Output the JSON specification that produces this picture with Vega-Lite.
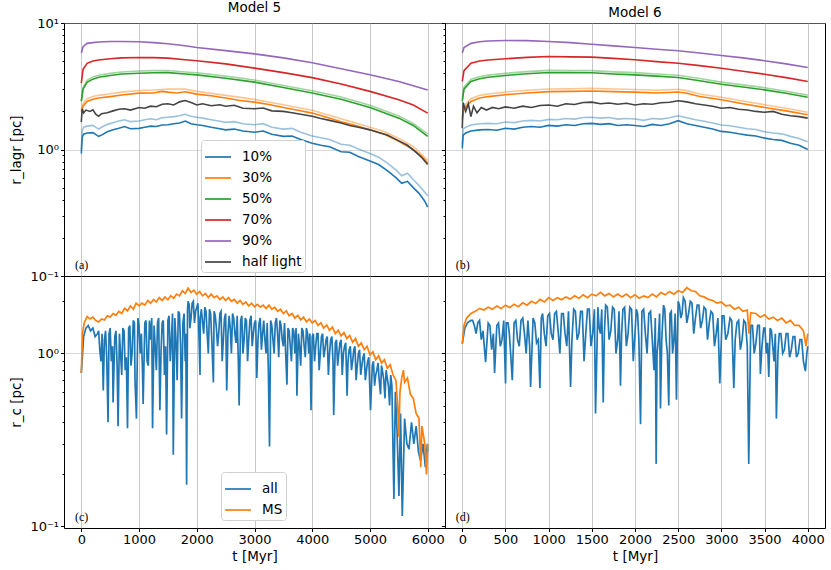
{
  "$schema": "https://vega.github.io/schema/vega-lite/v6.json",
  "description": "Lagrangian and core radii for Model 5 and Model 6.",
  "padding": {"left": 9, "top": 0, "right": 2, "bottom": 5},
  "bounds": "flush",
  "spacing": 0,
  "columns": 2,
  "config": {
    "font": "DejaVu Sans",
    "view": {"stroke": "black", "strokeWidth": 1},
    "title": {"font": "DejaVu Sans", "fontSize": 13.5, "fontWeight": "normal", "offset": 3, "color": "black"},
    "axis": {
      "labelFont": "DejaVu Sans", "labelFontSize": 13, "labelColor": "black",
      "titleFont": "DejaVu Sans", "titleFontSize": 13.5, "titleFontWeight": "normal", "titleColor": "black",
      "domain": false, "tickColor": "black", "tickSize": 3.5, "labelPadding": 2,
      "gridColor": "#b0b0b0", "gridOpacity": 0.7, "gridWidth": 1, "labelOverlap": false
    },
    "legend": {
      "labelFont": "DejaVu Sans", "labelFontSize": 13.5, "labelColor": "black",
      "symbolType": "stroke", "symbolSize": 676, "symbolStrokeWidth": 2, "symbolOpacity": 0.85,
      "strokeColor": "#d0d0d0", "fillColor": "white", "cornerRadius": 3, "padding": 3,
      "labelOffset": 10, "rowPadding": -7.5
    }
  },
  "datasets": {
    "lagr": [
      {"m":5,"s":"10%","k":"d","t":0,"v":0.93},{"m":5,"s":"10%","k":"d","t":15,"v":1.25},{"m":5,"s":"10%","k":"d","t":40,"v":1.32},{"m":5,"s":"10%","k":"d","t":100,"v":1.35},{"m":5,"s":"10%","k":"d","t":200,"v":1.36},{"m":5,"s":"10%","k":"d","t":300,"v":1.27},{"m":5,"s":"10%","k":"d","t":350,"v":1.3},{"m":5,"s":"10%","k":"d","t":450,"v":1.38},{"m":5,"s":"10%","k":"d","t":550,"v":1.43},{"m":5,"s":"10%","k":"d","t":650,"v":1.47},{"m":5,"s":"10%","k":"d","t":750,"v":1.52},{"m":5,"s":"10%","k":"d","t":850,"v":1.46},{"m":5,"s":"10%","k":"d","t":1000,"v":1.47},{"m":5,"s":"10%","k":"d","t":1100,"v":1.5},{"m":5,"s":"10%","k":"d","t":1200,"v":1.53},{"m":5,"s":"10%","k":"d","t":1300,"v":1.52},{"m":5,"s":"10%","k":"d","t":1400,"v":1.56},{"m":5,"s":"10%","k":"d","t":1500,"v":1.57},{"m":5,"s":"10%","k":"d","t":1600,"v":1.6},{"m":5,"s":"10%","k":"d","t":1700,"v":1.62},{"m":5,"s":"10%","k":"d","t":1800,"v":1.68},{"m":5,"s":"10%","k":"d","t":1900,"v":1.6},{"m":5,"s":"10%","k":"d","t":2000,"v":1.57},{"m":5,"s":"10%","k":"d","t":2100,"v":1.55},{"m":5,"s":"10%","k":"d","t":2250,"v":1.5},{"m":5,"s":"10%","k":"d","t":2400,"v":1.46},{"m":5,"s":"10%","k":"d","t":2500,"v":1.43},{"m":5,"s":"10%","k":"d","t":2650,"v":1.45},{"m":5,"s":"10%","k":"d","t":2800,"v":1.4},{"m":5,"s":"10%","k":"d","t":3000,"v":1.37},{"m":5,"s":"10%","k":"d","t":3150,"v":1.4},{"m":5,"s":"10%","k":"d","t":3300,"v":1.32},{"m":5,"s":"10%","k":"d","t":3500,"v":1.27},{"m":5,"s":"10%","k":"d","t":3650,"v":1.28},{"m":5,"s":"10%","k":"d","t":3800,"v":1.2},{"m":5,"s":"10%","k":"d","t":4000,"v":1.12},{"m":5,"s":"10%","k":"d","t":4150,"v":1.08},{"m":5,"s":"10%","k":"d","t":4300,"v":1.05},{"m":5,"s":"10%","k":"d","t":4500,"v":0.96},{"m":5,"s":"10%","k":"d","t":4650,"v":0.95},{"m":5,"s":"10%","k":"d","t":4800,"v":0.88},{"m":5,"s":"10%","k":"d","t":5000,"v":0.81},{"m":5,"s":"10%","k":"d","t":5150,"v":0.76},{"m":5,"s":"10%","k":"d","t":5300,"v":0.68},{"m":5,"s":"10%","k":"d","t":5450,"v":0.6},{"m":5,"s":"10%","k":"d","t":5550,"v":0.54},{"m":5,"s":"10%","k":"d","t":5650,"v":0.56},{"m":5,"s":"10%","k":"d","t":5750,"v":0.5},{"m":5,"s":"10%","k":"d","t":5850,"v":0.45},{"m":5,"s":"10%","k":"d","t":5950,"v":0.39},{"m":5,"s":"10%","k":"d","t":6000,"v":0.35},
      {"m":5,"s":"10%","k":"l","t":0,"v":1.0},{"m":5,"s":"10%","k":"l","t":15,"v":1.4},{"m":5,"s":"10%","k":"l","t":40,"v":1.5},{"m":5,"s":"10%","k":"l","t":100,"v":1.53},{"m":5,"s":"10%","k":"l","t":200,"v":1.55},{"m":5,"s":"10%","k":"l","t":300,"v":1.45},{"m":5,"s":"10%","k":"l","t":350,"v":1.5},{"m":5,"s":"10%","k":"l","t":450,"v":1.58},{"m":5,"s":"10%","k":"l","t":550,"v":1.63},{"m":5,"s":"10%","k":"l","t":650,"v":1.68},{"m":5,"s":"10%","k":"l","t":750,"v":1.72},{"m":5,"s":"10%","k":"l","t":850,"v":1.66},{"m":5,"s":"10%","k":"l","t":1000,"v":1.68},{"m":5,"s":"10%","k":"l","t":1100,"v":1.72},{"m":5,"s":"10%","k":"l","t":1200,"v":1.75},{"m":5,"s":"10%","k":"l","t":1300,"v":1.72},{"m":5,"s":"10%","k":"l","t":1400,"v":1.78},{"m":5,"s":"10%","k":"l","t":1500,"v":1.8},{"m":5,"s":"10%","k":"l","t":1600,"v":1.82},{"m":5,"s":"10%","k":"l","t":1700,"v":1.85},{"m":5,"s":"10%","k":"l","t":1800,"v":1.9},{"m":5,"s":"10%","k":"l","t":1900,"v":1.83},{"m":5,"s":"10%","k":"l","t":2000,"v":1.8},{"m":5,"s":"10%","k":"l","t":2100,"v":1.77},{"m":5,"s":"10%","k":"l","t":2250,"v":1.72},{"m":5,"s":"10%","k":"l","t":2400,"v":1.67},{"m":5,"s":"10%","k":"l","t":2500,"v":1.64},{"m":5,"s":"10%","k":"l","t":2650,"v":1.66},{"m":5,"s":"10%","k":"l","t":2800,"v":1.6},{"m":5,"s":"10%","k":"l","t":3000,"v":1.57},{"m":5,"s":"10%","k":"l","t":3150,"v":1.6},{"m":5,"s":"10%","k":"l","t":3300,"v":1.5},{"m":5,"s":"10%","k":"l","t":3500,"v":1.45},{"m":5,"s":"10%","k":"l","t":3650,"v":1.47},{"m":5,"s":"10%","k":"l","t":3800,"v":1.37},{"m":5,"s":"10%","k":"l","t":4000,"v":1.28},{"m":5,"s":"10%","k":"l","t":4150,"v":1.24},{"m":5,"s":"10%","k":"l","t":4300,"v":1.2},{"m":5,"s":"10%","k":"l","t":4500,"v":1.1},{"m":5,"s":"10%","k":"l","t":4650,"v":1.08},{"m":5,"s":"10%","k":"l","t":4800,"v":1.01},{"m":5,"s":"10%","k":"l","t":5000,"v":0.93},{"m":5,"s":"10%","k":"l","t":5150,"v":0.87},{"m":5,"s":"10%","k":"l","t":5300,"v":0.78},{"m":5,"s":"10%","k":"l","t":5450,"v":0.69},{"m":5,"s":"10%","k":"l","t":5550,"v":0.62},{"m":5,"s":"10%","k":"l","t":5650,"v":0.65},{"m":5,"s":"10%","k":"l","t":5750,"v":0.58},{"m":5,"s":"10%","k":"l","t":5850,"v":0.52},{"m":5,"s":"10%","k":"l","t":5950,"v":0.46},{"m":5,"s":"10%","k":"l","t":6000,"v":0.43},
      {"m":5,"s":"30%","k":"d","t":0,"v":2.0},{"m":5,"s":"30%","k":"d","t":30,"v":2.2},{"m":5,"s":"30%","k":"d","t":100,"v":2.4},{"m":5,"s":"30%","k":"d","t":200,"v":2.5},{"m":5,"s":"30%","k":"d","t":300,"v":2.55},{"m":5,"s":"30%","k":"d","t":500,"v":2.62},{"m":5,"s":"30%","k":"d","t":700,"v":2.7},{"m":5,"s":"30%","k":"d","t":1000,"v":2.79},{"m":5,"s":"30%","k":"d","t":1250,"v":2.8},{"m":5,"s":"30%","k":"d","t":1400,"v":2.88},{"m":5,"s":"30%","k":"d","t":1500,"v":2.84},{"m":5,"s":"30%","k":"d","t":1650,"v":2.8},{"m":5,"s":"30%","k":"d","t":1800,"v":2.86},{"m":5,"s":"30%","k":"d","t":2000,"v":2.74},{"m":5,"s":"30%","k":"d","t":2250,"v":2.66},{"m":5,"s":"30%","k":"d","t":2500,"v":2.55},{"m":5,"s":"30%","k":"d","t":2750,"v":2.44},{"m":5,"s":"30%","k":"d","t":3000,"v":2.37},{"m":5,"s":"30%","k":"d","t":3250,"v":2.27},{"m":5,"s":"30%","k":"d","t":3500,"v":2.15},{"m":5,"s":"30%","k":"d","t":3750,"v":2.04},{"m":5,"s":"30%","k":"d","t":4000,"v":1.94},{"m":5,"s":"30%","k":"d","t":4250,"v":1.8},{"m":5,"s":"30%","k":"d","t":4500,"v":1.66},{"m":5,"s":"30%","k":"d","t":4750,"v":1.55},{"m":5,"s":"30%","k":"d","t":5000,"v":1.43},{"m":5,"s":"30%","k":"d","t":5250,"v":1.32},{"m":5,"s":"30%","k":"d","t":5500,"v":1.16},{"m":5,"s":"30%","k":"d","t":5750,"v":1.0},{"m":5,"s":"30%","k":"d","t":5900,"v":0.88},{"m":5,"s":"30%","k":"d","t":6000,"v":0.78},
      {"m":5,"s":"30%","k":"l","t":0,"v":2.05},{"m":5,"s":"30%","k":"l","t":30,"v":2.3},{"m":5,"s":"30%","k":"l","t":100,"v":2.52},{"m":5,"s":"30%","k":"l","t":200,"v":2.62},{"m":5,"s":"30%","k":"l","t":300,"v":2.68},{"m":5,"s":"30%","k":"l","t":500,"v":2.76},{"m":5,"s":"30%","k":"l","t":700,"v":2.84},{"m":5,"s":"30%","k":"l","t":1000,"v":2.93},{"m":5,"s":"30%","k":"l","t":1250,"v":2.95},{"m":5,"s":"30%","k":"l","t":1500,"v":3.0},{"m":5,"s":"30%","k":"l","t":1800,"v":3.0},{"m":5,"s":"30%","k":"l","t":2000,"v":2.88},{"m":5,"s":"30%","k":"l","t":2500,"v":2.68},{"m":5,"s":"30%","k":"l","t":3000,"v":2.49},{"m":5,"s":"30%","k":"l","t":3500,"v":2.26},{"m":5,"s":"30%","k":"l","t":4000,"v":2.04},{"m":5,"s":"30%","k":"l","t":4500,"v":1.75},{"m":5,"s":"30%","k":"l","t":5000,"v":1.5},{"m":5,"s":"30%","k":"l","t":5250,"v":1.39},{"m":5,"s":"30%","k":"l","t":5500,"v":1.22},{"m":5,"s":"30%","k":"l","t":5750,"v":1.06},{"m":5,"s":"30%","k":"l","t":6000,"v":0.82},
      {"m":5,"s":"50%","k":"d","t":0,"v":2.4},{"m":5,"s":"50%","k":"d","t":30,"v":3.0},{"m":5,"s":"50%","k":"d","t":100,"v":3.4},{"m":5,"s":"50%","k":"d","t":200,"v":3.6},{"m":5,"s":"50%","k":"d","t":300,"v":3.72},{"m":5,"s":"50%","k":"d","t":500,"v":3.85},{"m":5,"s":"50%","k":"d","t":700,"v":3.95},{"m":5,"s":"50%","k":"d","t":1000,"v":4.01},{"m":5,"s":"50%","k":"d","t":1250,"v":4.04},{"m":5,"s":"50%","k":"d","t":1500,"v":4.05},{"m":5,"s":"50%","k":"d","t":1800,"v":3.95},{"m":5,"s":"50%","k":"d","t":2000,"v":3.89},{"m":5,"s":"50%","k":"d","t":2500,"v":3.66},{"m":5,"s":"50%","k":"d","t":3000,"v":3.41},{"m":5,"s":"50%","k":"d","t":3500,"v":3.09},{"m":5,"s":"50%","k":"d","t":4000,"v":2.8},{"m":5,"s":"50%","k":"d","t":4500,"v":2.5},{"m":5,"s":"50%","k":"d","t":5000,"v":2.15},{"m":5,"s":"50%","k":"d","t":5500,"v":1.77},{"m":5,"s":"50%","k":"d","t":5750,"v":1.55},{"m":5,"s":"50%","k":"d","t":6000,"v":1.27},
      {"m":5,"s":"50%","k":"l","t":0,"v":2.45},{"m":5,"s":"50%","k":"l","t":30,"v":3.1},{"m":5,"s":"50%","k":"l","t":100,"v":3.52},{"m":5,"s":"50%","k":"l","t":200,"v":3.74},{"m":5,"s":"50%","k":"l","t":300,"v":3.86},{"m":5,"s":"50%","k":"l","t":500,"v":4.0},{"m":5,"s":"50%","k":"l","t":700,"v":4.1},{"m":5,"s":"50%","k":"l","t":1000,"v":4.17},{"m":5,"s":"50%","k":"l","t":1250,"v":4.2},{"m":5,"s":"50%","k":"l","t":1500,"v":4.21},{"m":5,"s":"50%","k":"l","t":1800,"v":4.1},{"m":5,"s":"50%","k":"l","t":2000,"v":4.04},{"m":5,"s":"50%","k":"l","t":2500,"v":3.8},{"m":5,"s":"50%","k":"l","t":3000,"v":3.54},{"m":5,"s":"50%","k":"l","t":3500,"v":3.21},{"m":5,"s":"50%","k":"l","t":4000,"v":2.91},{"m":5,"s":"50%","k":"l","t":4500,"v":2.6},{"m":5,"s":"50%","k":"l","t":5000,"v":2.24},{"m":5,"s":"50%","k":"l","t":5500,"v":1.84},{"m":5,"s":"50%","k":"l","t":5750,"v":1.61},{"m":5,"s":"50%","k":"l","t":6000,"v":1.33},
      {"m":5,"s":"70%","k":"d","t":0,"v":3.35},{"m":5,"s":"70%","k":"d","t":30,"v":4.3},{"m":5,"s":"70%","k":"d","t":100,"v":4.8},{"m":5,"s":"70%","k":"d","t":200,"v":5.0},{"m":5,"s":"70%","k":"d","t":300,"v":5.1},{"m":5,"s":"70%","k":"d","t":500,"v":5.22},{"m":5,"s":"70%","k":"d","t":700,"v":5.3},{"m":5,"s":"70%","k":"d","t":1000,"v":5.34},{"m":5,"s":"70%","k":"d","t":1250,"v":5.32},{"m":5,"s":"70%","k":"d","t":1500,"v":5.28},{"m":5,"s":"70%","k":"d","t":1800,"v":5.12},{"m":5,"s":"70%","k":"d","t":2000,"v":5.03},{"m":5,"s":"70%","k":"d","t":2500,"v":4.75},{"m":5,"s":"70%","k":"d","t":3000,"v":4.4},{"m":5,"s":"70%","k":"d","t":3500,"v":4.05},{"m":5,"s":"70%","k":"d","t":4000,"v":3.7},{"m":5,"s":"70%","k":"d","t":4500,"v":3.3},{"m":5,"s":"70%","k":"d","t":5000,"v":2.88},{"m":5,"s":"70%","k":"d","t":5500,"v":2.47},{"m":5,"s":"70%","k":"d","t":5750,"v":2.25},{"m":5,"s":"70%","k":"d","t":6000,"v":1.94},
      {"m":5,"s":"90%","k":"d","t":0,"v":5.8},{"m":5,"s":"90%","k":"d","t":30,"v":6.5},{"m":5,"s":"90%","k":"d","t":100,"v":6.9},{"m":5,"s":"90%","k":"d","t":200,"v":7.0},{"m":5,"s":"90%","k":"d","t":300,"v":7.08},{"m":5,"s":"90%","k":"d","t":500,"v":7.14},{"m":5,"s":"90%","k":"d","t":700,"v":7.15},{"m":5,"s":"90%","k":"d","t":1000,"v":7.1},{"m":5,"s":"90%","k":"d","t":1250,"v":7.0},{"m":5,"s":"90%","k":"d","t":1500,"v":6.85},{"m":5,"s":"90%","k":"d","t":1800,"v":6.6},{"m":5,"s":"90%","k":"d","t":2000,"v":6.4},{"m":5,"s":"90%","k":"d","t":2500,"v":6.05},{"m":5,"s":"90%","k":"d","t":3000,"v":5.7},{"m":5,"s":"90%","k":"d","t":3500,"v":5.3},{"m":5,"s":"90%","k":"d","t":4000,"v":4.85},{"m":5,"s":"90%","k":"d","t":4500,"v":4.35},{"m":5,"s":"90%","k":"d","t":5000,"v":3.9},{"m":5,"s":"90%","k":"d","t":5500,"v":3.45},{"m":5,"s":"90%","k":"d","t":6000,"v":2.95},
      {"m":5,"s":"half light","k":"d","t":0,"v":1.65},{"m":5,"s":"half light","k":"d","t":15,"v":2.1},{"m":5,"s":"half light","k":"d","t":40,"v":1.95},{"m":5,"s":"half light","k":"d","t":80,"v":2.05},{"m":5,"s":"half light","k":"d","t":150,"v":2.0},{"m":5,"s":"half light","k":"d","t":200,"v":2.06},{"m":5,"s":"half light","k":"d","t":250,"v":1.9},{"m":5,"s":"half light","k":"d","t":300,"v":1.83},{"m":5,"s":"half light","k":"d","t":350,"v":1.92},{"m":5,"s":"half light","k":"d","t":450,"v":1.95},{"m":5,"s":"half light","k":"d","t":550,"v":2.02},{"m":5,"s":"half light","k":"d","t":650,"v":2.08},{"m":5,"s":"half light","k":"d","t":750,"v":2.1},{"m":5,"s":"half light","k":"d","t":850,"v":2.05},{"m":5,"s":"half light","k":"d","t":1000,"v":2.15},{"m":5,"s":"half light","k":"d","t":1100,"v":2.12},{"m":5,"s":"half light","k":"d","t":1200,"v":2.2},{"m":5,"s":"half light","k":"d","t":1300,"v":2.18},{"m":5,"s":"half light","k":"d","t":1400,"v":2.28},{"m":5,"s":"half light","k":"d","t":1500,"v":2.3},{"m":5,"s":"half light","k":"d","t":1600,"v":2.25},{"m":5,"s":"half light","k":"d","t":1700,"v":2.38},{"m":5,"s":"half light","k":"d","t":1800,"v":2.44},{"m":5,"s":"half light","k":"d","t":1900,"v":2.35},{"m":5,"s":"half light","k":"d","t":2000,"v":2.25},{"m":5,"s":"half light","k":"d","t":2100,"v":2.3},{"m":5,"s":"half light","k":"d","t":2250,"v":2.22},{"m":5,"s":"half light","k":"d","t":2400,"v":2.26},{"m":5,"s":"half light","k":"d","t":2500,"v":2.2},{"m":5,"s":"half light","k":"d","t":2650,"v":2.24},{"m":5,"s":"half light","k":"d","t":2800,"v":2.12},{"m":5,"s":"half light","k":"d","t":3000,"v":2.1},{"m":5,"s":"half light","k":"d","t":3150,"v":2.13},{"m":5,"s":"half light","k":"d","t":3300,"v":2.02},{"m":5,"s":"half light","k":"d","t":3500,"v":2.0},{"m":5,"s":"half light","k":"d","t":3650,"v":1.95},{"m":5,"s":"half light","k":"d","t":3800,"v":1.9},{"m":5,"s":"half light","k":"d","t":4000,"v":1.83},{"m":5,"s":"half light","k":"d","t":4150,"v":1.76},{"m":5,"s":"half light","k":"d","t":4300,"v":1.7},{"m":5,"s":"half light","k":"d","t":4500,"v":1.62},{"m":5,"s":"half light","k":"d","t":4650,"v":1.55},{"m":5,"s":"half light","k":"d","t":4800,"v":1.5},{"m":5,"s":"half light","k":"d","t":5000,"v":1.43},{"m":5,"s":"half light","k":"d","t":5150,"v":1.36},{"m":5,"s":"half light","k":"d","t":5300,"v":1.3},{"m":5,"s":"half light","k":"d","t":5500,"v":1.17},{"m":5,"s":"half light","k":"d","t":5650,"v":1.08},{"m":5,"s":"half light","k":"d","t":5800,"v":0.95},{"m":5,"s":"half light","k":"d","t":5900,"v":0.86},{"m":5,"s":"half light","k":"d","t":6000,"v":0.76},
      {"m":6,"s":"10%","k":"d","t":0,"v":1.02},{"m":6,"s":"10%","k":"d","t":10,"v":1.3},{"m":6,"s":"10%","k":"d","t":40,"v":1.35},{"m":6,"s":"10%","k":"d","t":100,"v":1.4},{"m":6,"s":"10%","k":"d","t":200,"v":1.43},{"m":6,"s":"10%","k":"d","t":300,"v":1.44},{"m":6,"s":"10%","k":"d","t":400,"v":1.42},{"m":6,"s":"10%","k":"d","t":500,"v":1.47},{"m":6,"s":"10%","k":"d","t":600,"v":1.45},{"m":6,"s":"10%","k":"d","t":700,"v":1.5},{"m":6,"s":"10%","k":"d","t":800,"v":1.52},{"m":6,"s":"10%","k":"d","t":900,"v":1.5},{"m":6,"s":"10%","k":"d","t":1000,"v":1.55},{"m":6,"s":"10%","k":"d","t":1100,"v":1.53},{"m":6,"s":"10%","k":"d","t":1200,"v":1.57},{"m":6,"s":"10%","k":"d","t":1300,"v":1.55},{"m":6,"s":"10%","k":"d","t":1400,"v":1.6},{"m":6,"s":"10%","k":"d","t":1500,"v":1.61},{"m":6,"s":"10%","k":"d","t":1600,"v":1.58},{"m":6,"s":"10%","k":"d","t":1700,"v":1.6},{"m":6,"s":"10%","k":"d","t":1800,"v":1.55},{"m":6,"s":"10%","k":"d","t":1900,"v":1.57},{"m":6,"s":"10%","k":"d","t":2000,"v":1.55},{"m":6,"s":"10%","k":"d","t":2100,"v":1.52},{"m":6,"s":"10%","k":"d","t":2200,"v":1.58},{"m":6,"s":"10%","k":"d","t":2300,"v":1.55},{"m":6,"s":"10%","k":"d","t":2400,"v":1.6},{"m":6,"s":"10%","k":"d","t":2500,"v":1.69},{"m":6,"s":"10%","k":"d","t":2600,"v":1.6},{"m":6,"s":"10%","k":"d","t":2700,"v":1.55},{"m":6,"s":"10%","k":"d","t":2800,"v":1.5},{"m":6,"s":"10%","k":"d","t":2900,"v":1.45},{"m":6,"s":"10%","k":"d","t":3000,"v":1.39},{"m":6,"s":"10%","k":"d","t":3100,"v":1.37},{"m":6,"s":"10%","k":"d","t":3200,"v":1.33},{"m":6,"s":"10%","k":"d","t":3300,"v":1.3},{"m":6,"s":"10%","k":"d","t":3400,"v":1.28},{"m":6,"s":"10%","k":"d","t":3500,"v":1.23},{"m":6,"s":"10%","k":"d","t":3600,"v":1.2},{"m":6,"s":"10%","k":"d","t":3700,"v":1.18},{"m":6,"s":"10%","k":"d","t":3800,"v":1.12},{"m":6,"s":"10%","k":"d","t":3900,"v":1.08},{"m":6,"s":"10%","k":"d","t":4000,"v":1.0},
      {"m":6,"s":"10%","k":"l","t":0,"v":1.1},{"m":6,"s":"10%","k":"l","t":10,"v":1.45},{"m":6,"s":"10%","k":"l","t":40,"v":1.5},{"m":6,"s":"10%","k":"l","t":100,"v":1.56},{"m":6,"s":"10%","k":"l","t":200,"v":1.6},{"m":6,"s":"10%","k":"l","t":300,"v":1.61},{"m":6,"s":"10%","k":"l","t":400,"v":1.6},{"m":6,"s":"10%","k":"l","t":500,"v":1.65},{"m":6,"s":"10%","k":"l","t":600,"v":1.63},{"m":6,"s":"10%","k":"l","t":700,"v":1.68},{"m":6,"s":"10%","k":"l","t":800,"v":1.7},{"m":6,"s":"10%","k":"l","t":900,"v":1.68},{"m":6,"s":"10%","k":"l","t":1000,"v":1.73},{"m":6,"s":"10%","k":"l","t":1100,"v":1.72},{"m":6,"s":"10%","k":"l","t":1200,"v":1.76},{"m":6,"s":"10%","k":"l","t":1300,"v":1.74},{"m":6,"s":"10%","k":"l","t":1400,"v":1.79},{"m":6,"s":"10%","k":"l","t":1500,"v":1.8},{"m":6,"s":"10%","k":"l","t":1600,"v":1.77},{"m":6,"s":"10%","k":"l","t":1700,"v":1.79},{"m":6,"s":"10%","k":"l","t":1800,"v":1.74},{"m":6,"s":"10%","k":"l","t":1900,"v":1.76},{"m":6,"s":"10%","k":"l","t":2000,"v":1.74},{"m":6,"s":"10%","k":"l","t":2100,"v":1.7},{"m":6,"s":"10%","k":"l","t":2200,"v":1.76},{"m":6,"s":"10%","k":"l","t":2300,"v":1.74},{"m":6,"s":"10%","k":"l","t":2400,"v":1.78},{"m":6,"s":"10%","k":"l","t":2500,"v":1.85},{"m":6,"s":"10%","k":"l","t":2600,"v":1.78},{"m":6,"s":"10%","k":"l","t":2700,"v":1.72},{"m":6,"s":"10%","k":"l","t":2800,"v":1.67},{"m":6,"s":"10%","k":"l","t":2900,"v":1.62},{"m":6,"s":"10%","k":"l","t":3000,"v":1.56},{"m":6,"s":"10%","k":"l","t":3100,"v":1.54},{"m":6,"s":"10%","k":"l","t":3200,"v":1.5},{"m":6,"s":"10%","k":"l","t":3300,"v":1.46},{"m":6,"s":"10%","k":"l","t":3400,"v":1.44},{"m":6,"s":"10%","k":"l","t":3500,"v":1.38},{"m":6,"s":"10%","k":"l","t":3600,"v":1.35},{"m":6,"s":"10%","k":"l","t":3700,"v":1.33},{"m":6,"s":"10%","k":"l","t":3800,"v":1.27},{"m":6,"s":"10%","k":"l","t":3900,"v":1.22},{"m":6,"s":"10%","k":"l","t":4000,"v":1.15},
      {"m":6,"s":"30%","k":"d","t":0,"v":1.72},{"m":6,"s":"30%","k":"d","t":20,"v":2.1},{"m":6,"s":"30%","k":"d","t":100,"v":2.4},{"m":6,"s":"30%","k":"d","t":200,"v":2.55},{"m":6,"s":"30%","k":"d","t":300,"v":2.62},{"m":6,"s":"30%","k":"d","t":500,"v":2.71},{"m":6,"s":"30%","k":"d","t":750,"v":2.8},{"m":6,"s":"30%","k":"d","t":1000,"v":2.87},{"m":6,"s":"30%","k":"d","t":1250,"v":2.88},{"m":6,"s":"30%","k":"d","t":1500,"v":2.9},{"m":6,"s":"30%","k":"d","t":1750,"v":2.87},{"m":6,"s":"30%","k":"d","t":2000,"v":2.84},{"m":6,"s":"30%","k":"d","t":2250,"v":2.8},{"m":6,"s":"30%","k":"d","t":2500,"v":2.85},{"m":6,"s":"30%","k":"d","t":2600,"v":2.78},{"m":6,"s":"30%","k":"d","t":2750,"v":2.62},{"m":6,"s":"30%","k":"d","t":3000,"v":2.47},{"m":6,"s":"30%","k":"d","t":3250,"v":2.3},{"m":6,"s":"30%","k":"d","t":3500,"v":2.15},{"m":6,"s":"30%","k":"d","t":3750,"v":2.02},{"m":6,"s":"30%","k":"d","t":4000,"v":1.88},
      {"m":6,"s":"30%","k":"l","t":0,"v":1.8},{"m":6,"s":"30%","k":"l","t":20,"v":2.2},{"m":6,"s":"30%","k":"l","t":100,"v":2.52},{"m":6,"s":"30%","k":"l","t":200,"v":2.68},{"m":6,"s":"30%","k":"l","t":300,"v":2.75},{"m":6,"s":"30%","k":"l","t":500,"v":2.85},{"m":6,"s":"30%","k":"l","t":750,"v":2.94},{"m":6,"s":"30%","k":"l","t":1000,"v":3.01},{"m":6,"s":"30%","k":"l","t":1250,"v":3.02},{"m":6,"s":"30%","k":"l","t":1500,"v":3.05},{"m":6,"s":"30%","k":"l","t":1750,"v":3.01},{"m":6,"s":"30%","k":"l","t":2000,"v":2.98},{"m":6,"s":"30%","k":"l","t":2250,"v":2.94},{"m":6,"s":"30%","k":"l","t":2500,"v":2.99},{"m":6,"s":"30%","k":"l","t":2600,"v":2.92},{"m":6,"s":"30%","k":"l","t":2750,"v":2.75},{"m":6,"s":"30%","k":"l","t":3000,"v":2.59},{"m":6,"s":"30%","k":"l","t":3250,"v":2.42},{"m":6,"s":"30%","k":"l","t":3500,"v":2.26},{"m":6,"s":"30%","k":"l","t":3750,"v":2.12},{"m":6,"s":"30%","k":"l","t":4000,"v":1.97},
      {"m":6,"s":"50%","k":"d","t":0,"v":2.4},{"m":6,"s":"50%","k":"d","t":20,"v":3.0},{"m":6,"s":"50%","k":"d","t":100,"v":3.45},{"m":6,"s":"50%","k":"d","t":200,"v":3.62},{"m":6,"s":"50%","k":"d","t":300,"v":3.72},{"m":6,"s":"50%","k":"d","t":500,"v":3.85},{"m":6,"s":"50%","k":"d","t":750,"v":3.97},{"m":6,"s":"50%","k":"d","t":1000,"v":4.06},{"m":6,"s":"50%","k":"d","t":1250,"v":4.05},{"m":6,"s":"50%","k":"d","t":1500,"v":4.04},{"m":6,"s":"50%","k":"d","t":1750,"v":3.95},{"m":6,"s":"50%","k":"d","t":2000,"v":3.89},{"m":6,"s":"50%","k":"d","t":2250,"v":3.8},{"m":6,"s":"50%","k":"d","t":2500,"v":3.71},{"m":6,"s":"50%","k":"d","t":2750,"v":3.5},{"m":6,"s":"50%","k":"d","t":3000,"v":3.28},{"m":6,"s":"50%","k":"d","t":3250,"v":3.12},{"m":6,"s":"50%","k":"d","t":3500,"v":2.96},{"m":6,"s":"50%","k":"d","t":3750,"v":2.78},{"m":6,"s":"50%","k":"d","t":4000,"v":2.59},
      {"m":6,"s":"50%","k":"l","t":0,"v":2.5},{"m":6,"s":"50%","k":"l","t":20,"v":3.12},{"m":6,"s":"50%","k":"l","t":100,"v":3.59},{"m":6,"s":"50%","k":"l","t":200,"v":3.76},{"m":6,"s":"50%","k":"l","t":300,"v":3.87},{"m":6,"s":"50%","k":"l","t":500,"v":4.0},{"m":6,"s":"50%","k":"l","t":750,"v":4.13},{"m":6,"s":"50%","k":"l","t":1000,"v":4.22},{"m":6,"s":"50%","k":"l","t":1250,"v":4.21},{"m":6,"s":"50%","k":"l","t":1500,"v":4.2},{"m":6,"s":"50%","k":"l","t":1750,"v":4.11},{"m":6,"s":"50%","k":"l","t":2000,"v":4.05},{"m":6,"s":"50%","k":"l","t":2250,"v":3.95},{"m":6,"s":"50%","k":"l","t":2500,"v":3.86},{"m":6,"s":"50%","k":"l","t":2750,"v":3.64},{"m":6,"s":"50%","k":"l","t":3000,"v":3.41},{"m":6,"s":"50%","k":"l","t":3250,"v":3.24},{"m":6,"s":"50%","k":"l","t":3500,"v":3.08},{"m":6,"s":"50%","k":"l","t":3750,"v":2.89},{"m":6,"s":"50%","k":"l","t":4000,"v":2.69},
      {"m":6,"s":"70%","k":"d","t":0,"v":3.45},{"m":6,"s":"70%","k":"d","t":20,"v":4.2},{"m":6,"s":"70%","k":"d","t":100,"v":4.8},{"m":6,"s":"70%","k":"d","t":200,"v":5.0},{"m":6,"s":"70%","k":"d","t":300,"v":5.1},{"m":6,"s":"70%","k":"d","t":500,"v":5.21},{"m":6,"s":"70%","k":"d","t":750,"v":5.35},{"m":6,"s":"70%","k":"d","t":1000,"v":5.43},{"m":6,"s":"70%","k":"d","t":1250,"v":5.4},{"m":6,"s":"70%","k":"d","t":1500,"v":5.37},{"m":6,"s":"70%","k":"d","t":1750,"v":5.25},{"m":6,"s":"70%","k":"d","t":2000,"v":5.12},{"m":6,"s":"70%","k":"d","t":2250,"v":4.95},{"m":6,"s":"70%","k":"d","t":2500,"v":4.81},{"m":6,"s":"70%","k":"d","t":2750,"v":4.6},{"m":6,"s":"70%","k":"d","t":3000,"v":4.39},{"m":6,"s":"70%","k":"d","t":3250,"v":4.15},{"m":6,"s":"70%","k":"d","t":3500,"v":3.94},{"m":6,"s":"70%","k":"d","t":3750,"v":3.7},{"m":6,"s":"70%","k":"d","t":4000,"v":3.45},
      {"m":6,"s":"90%","k":"d","t":0,"v":5.8},{"m":6,"s":"90%","k":"d","t":20,"v":6.4},{"m":6,"s":"90%","k":"d","t":100,"v":6.9},{"m":6,"s":"90%","k":"d","t":200,"v":7.1},{"m":6,"s":"90%","k":"d","t":300,"v":7.2},{"m":6,"s":"90%","k":"d","t":500,"v":7.27},{"m":6,"s":"90%","k":"d","t":750,"v":7.25},{"m":6,"s":"90%","k":"d","t":1000,"v":7.14},{"m":6,"s":"90%","k":"d","t":1250,"v":7.0},{"m":6,"s":"90%","k":"d","t":1500,"v":6.8},{"m":6,"s":"90%","k":"d","t":1750,"v":6.6},{"m":6,"s":"90%","k":"d","t":2000,"v":6.4},{"m":6,"s":"90%","k":"d","t":2250,"v":6.2},{"m":6,"s":"90%","k":"d","t":2500,"v":6.03},{"m":6,"s":"90%","k":"d","t":2750,"v":5.8},{"m":6,"s":"90%","k":"d","t":3000,"v":5.53},{"m":6,"s":"90%","k":"d","t":3250,"v":5.3},{"m":6,"s":"90%","k":"d","t":3500,"v":5.03},{"m":6,"s":"90%","k":"d","t":3750,"v":4.75},{"m":6,"s":"90%","k":"d","t":4000,"v":4.45},
      {"m":6,"s":"half light","k":"d","t":0,"v":1.47},{"m":6,"s":"half light","k":"d","t":10,"v":2.35},{"m":6,"s":"half light","k":"d","t":40,"v":2.0},{"m":6,"s":"half light","k":"d","t":70,"v":2.3},{"m":6,"s":"half light","k":"d","t":100,"v":1.82},{"m":6,"s":"half light","k":"d","t":130,"v":2.2},{"m":6,"s":"half light","k":"d","t":170,"v":1.95},{"m":6,"s":"half light","k":"d","t":220,"v":2.15},{"m":6,"s":"half light","k":"d","t":280,"v":2.05},{"m":6,"s":"half light","k":"d","t":350,"v":2.15},{"m":6,"s":"half light","k":"d","t":420,"v":2.1},{"m":6,"s":"half light","k":"d","t":500,"v":2.17},{"m":6,"s":"half light","k":"d","t":600,"v":2.12},{"m":6,"s":"half light","k":"d","t":700,"v":2.2},{"m":6,"s":"half light","k":"d","t":800,"v":2.15},{"m":6,"s":"half light","k":"d","t":900,"v":2.23},{"m":6,"s":"half light","k":"d","t":1000,"v":2.25},{"m":6,"s":"half light","k":"d","t":1100,"v":2.2},{"m":6,"s":"half light","k":"d","t":1200,"v":2.3},{"m":6,"s":"half light","k":"d","t":1300,"v":2.27},{"m":6,"s":"half light","k":"d","t":1400,"v":2.35},{"m":6,"s":"half light","k":"d","t":1500,"v":2.37},{"m":6,"s":"half light","k":"d","t":1600,"v":2.3},{"m":6,"s":"half light","k":"d","t":1700,"v":2.33},{"m":6,"s":"half light","k":"d","t":1800,"v":2.28},{"m":6,"s":"half light","k":"d","t":1900,"v":2.32},{"m":6,"s":"half light","k":"d","t":2000,"v":2.25},{"m":6,"s":"half light","k":"d","t":2100,"v":2.3},{"m":6,"s":"half light","k":"d","t":2200,"v":2.28},{"m":6,"s":"half light","k":"d","t":2300,"v":2.34},{"m":6,"s":"half light","k":"d","t":2400,"v":2.36},{"m":6,"s":"half light","k":"d","t":2500,"v":2.43},{"m":6,"s":"half light","k":"d","t":2600,"v":2.38},{"m":6,"s":"half light","k":"d","t":2700,"v":2.3},{"m":6,"s":"half light","k":"d","t":2800,"v":2.25},{"m":6,"s":"half light","k":"d","t":2900,"v":2.2},{"m":6,"s":"half light","k":"d","t":3000,"v":2.12},{"m":6,"s":"half light","k":"d","t":3100,"v":2.15},{"m":6,"s":"half light","k":"d","t":3200,"v":2.08},{"m":6,"s":"half light","k":"d","t":3300,"v":2.05},{"m":6,"s":"half light","k":"d","t":3400,"v":2.0},{"m":6,"s":"half light","k":"d","t":3500,"v":1.97},{"m":6,"s":"half light","k":"d","t":3600,"v":2.0},{"m":6,"s":"half light","k":"d","t":3700,"v":1.9},{"m":6,"s":"half light","k":"d","t":3800,"v":1.85},{"m":6,"s":"half light","k":"d","t":3900,"v":1.82},{"m":6,"s":"half light","k":"d","t":4000,"v":1.77}
    ],
    "rc": [
      {"m":5,"s":"all","t":0,"v":0.77},{"m":5,"s":"all","t":40,"v":1.25},{"m":5,"s":"all","t":80,"v":1.4},{"m":5,"s":"all","t":120,"v":1.45},{"m":5,"s":"all","t":160,"v":1.35},{"m":5,"s":"all","t":200,"v":1.4},{"m":5,"s":"all","t":240,"v":1.25},{"m":5,"s":"all","t":280,"v":1.3},{"m":5,"s":"all","t":320,"v":1.05},{"m":5,"s":"all","t":360,"v":1.3},{"m":5,"s":"all","t":380,"v":0.61},{"m":5,"s":"all","t":400,"v":1.2},{"m":5,"s":"all","t":440,"v":0.95},{"m":5,"s":"all","t":463,"v":0.4},{"m":5,"s":"all","t":480,"v":1.3},{"m":5,"s":"all","t":520,"v":0.9},{"m":5,"s":"all","t":550,"v":0.52},{"m":5,"s":"all","t":580,"v":1.25},{"m":5,"s":"all","t":620,"v":0.85},{"m":5,"s":"all","t":637,"v":0.38},{"m":5,"s":"all","t":660,"v":1.3},{"m":5,"s":"all","t":700,"v":0.75},{"m":5,"s":"all","t":740,"v":1.35},{"m":5,"s":"all","t":780,"v":0.95},{"m":5,"s":"all","t":800,"v":0.37},{"m":5,"s":"all","t":820,"v":1.4},{"m":5,"s":"all","t":860,"v":0.85},{"m":5,"s":"all","t":900,"v":1.55},{"m":5,"s":"all","t":930,"v":0.7},{"m":5,"s":"all","t":955,"v":0.42},{"m":5,"s":"all","t":980,"v":1.6},{"m":5,"s":"all","t":1020,"v":1.0},{"m":5,"s":"all","t":1071,"v":0.51},{"m":5,"s":"all","t":1100,"v":1.5},{"m":5,"s":"all","t":1140,"v":0.9},{"m":5,"s":"all","t":1180,"v":1.55},{"m":5,"s":"all","t":1234,"v":0.37},{"m":5,"s":"all","t":1260,"v":1.45},{"m":5,"s":"all","t":1300,"v":0.8},{"m":5,"s":"all","t":1340,"v":1.6},{"m":5,"s":"all","t":1361,"v":0.47},{"m":5,"s":"all","t":1400,"v":1.5},{"m":5,"s":"all","t":1440,"v":0.75},{"m":5,"s":"all","t":1477,"v":0.34},{"m":5,"s":"all","t":1500,"v":1.55},{"m":5,"s":"all","t":1540,"v":0.9},{"m":5,"s":"all","t":1593,"v":0.26},{"m":5,"s":"all","t":1620,"v":1.6},{"m":5,"s":"all","t":1660,"v":0.7},{"m":5,"s":"all","t":1700,"v":1.7},{"m":5,"s":"all","t":1737,"v":0.42},{"m":5,"s":"all","t":1760,"v":1.5},{"m":5,"s":"all","t":1800,"v":0.9},{"m":5,"s":"all","t":1824,"v":0.174},{"m":5,"s":"all","t":1850,"v":2.0},{"m":5,"s":"all","t":1880,"v":1.4},{"m":5,"s":"all","t":1920,"v":1.95},{"m":5,"s":"all","t":1960,"v":1.5},{"m":5,"s":"all","t":2000,"v":1.85},{"m":5,"s":"all","t":2040,"v":1.2},{"m":5,"s":"all","t":2056,"v":0.75},{"m":5,"s":"all","t":2080,"v":1.8},{"m":5,"s":"all","t":2120,"v":1.3},{"m":5,"s":"all","t":2160,"v":1.75},{"m":5,"s":"all","t":2200,"v":1.0},{"m":5,"s":"all","t":2240,"v":1.7},{"m":5,"s":"all","t":2288,"v":0.68},{"m":5,"s":"all","t":2320,"v":1.65},{"m":5,"s":"all","t":2360,"v":1.1},{"m":5,"s":"all","t":2400,"v":1.7},{"m":5,"s":"all","t":2440,"v":0.9},{"m":5,"s":"all","t":2480,"v":1.6},{"m":5,"s":"all","t":2519,"v":0.61},{"m":5,"s":"all","t":2560,"v":1.65},{"m":5,"s":"all","t":2600,"v":1.0},{"m":5,"s":"all","t":2640,"v":1.6},{"m":5,"s":"all","t":2680,"v":1.15},{"m":5,"s":"all","t":2734,"v":0.5},{"m":5,"s":"all","t":2760,"v":1.55},{"m":5,"s":"all","t":2800,"v":1.0},{"m":5,"s":"all","t":2840,"v":1.6},{"m":5,"s":"all","t":2880,"v":0.9},{"m":5,"s":"all","t":2920,"v":1.55},{"m":5,"s":"all","t":2960,"v":1.1},{"m":5,"s":"all","t":3000,"v":1.5},{"m":5,"s":"all","t":3040,"v":0.72},{"m":5,"s":"all","t":3080,"v":1.5},{"m":5,"s":"all","t":3120,"v":1.05},{"m":5,"s":"all","t":3160,"v":1.55},{"m":5,"s":"all","t":3200,"v":1.0},{"m":5,"s":"all","t":3260,"v":0.29},{"m":5,"s":"all","t":3300,"v":1.45},{"m":5,"s":"all","t":3340,"v":1.0},{"m":5,"s":"all","t":3380,"v":1.6},{"m":5,"s":"all","t":3420,"v":0.95},{"m":5,"s":"all","t":3460,"v":1.45},{"m":5,"s":"all","t":3500,"v":1.1},{"m":5,"s":"all","t":3562,"v":0.66},{"m":5,"s":"all","t":3600,"v":1.35},{"m":5,"s":"all","t":3640,"v":0.9},{"m":5,"s":"all","t":3680,"v":1.35},{"m":5,"s":"all","t":3735,"v":0.57},{"m":5,"s":"all","t":3760,"v":1.3},{"m":5,"s":"all","t":3800,"v":0.85},{"m":5,"s":"all","t":3840,"v":1.35},{"m":5,"s":"all","t":3880,"v":0.95},{"m":5,"s":"all","t":3920,"v":1.3},{"m":5,"s":"all","t":3979,"v":0.47},{"m":5,"s":"all","t":4000,"v":1.25},{"m":5,"s":"all","t":4040,"v":0.9},{"m":5,"s":"all","t":4080,"v":1.3},{"m":5,"s":"all","t":4120,"v":0.8},{"m":5,"s":"all","t":4160,"v":1.25},{"m":5,"s":"all","t":4200,"v":0.95},{"m":5,"s":"all","t":4240,"v":1.2},{"m":5,"s":"all","t":4280,"v":0.75},{"m":5,"s":"all","t":4320,"v":1.2},{"m":5,"s":"all","t":4372,"v":0.44},{"m":5,"s":"all","t":4400,"v":1.15},{"m":5,"s":"all","t":4440,"v":0.85},{"m":5,"s":"all","t":4480,"v":1.15},{"m":5,"s":"all","t":4520,"v":0.75},{"m":5,"s":"all","t":4560,"v":1.1},{"m":5,"s":"all","t":4604,"v":0.57},{"m":5,"s":"all","t":4640,"v":1.05},{"m":5,"s":"all","t":4680,"v":0.8},{"m":5,"s":"all","t":4720,"v":1.05},{"m":5,"s":"all","t":4760,"v":0.7},{"m":5,"s":"all","t":4800,"v":1.0},{"m":5,"s":"all","t":4840,"v":0.75},{"m":5,"s":"all","t":4880,"v":0.95},{"m":5,"s":"all","t":4920,"v":0.7},{"m":5,"s":"all","t":4960,"v":0.9},{"m":5,"s":"all","t":5010,"v":0.47},{"m":5,"s":"all","t":5040,"v":0.85},{"m":5,"s":"all","t":5080,"v":0.65},{"m":5,"s":"all","t":5120,"v":0.8},{"m":5,"s":"all","t":5183,"v":0.58},{"m":5,"s":"all","t":5220,"v":0.78},{"m":5,"s":"all","t":5260,"v":0.55},{"m":5,"s":"all","t":5300,"v":0.72},{"m":5,"s":"all","t":5340,"v":0.5},{"m":5,"s":"all","t":5380,"v":0.65},{"m":5,"s":"all","t":5415,"v":0.144},{"m":5,"s":"all","t":5440,"v":0.6},{"m":5,"s":"all","t":5470,"v":0.35},{"m":5,"s":"all","t":5502,"v":0.15},{"m":5,"s":"all","t":5530,"v":0.45},{"m":5,"s":"all","t":5560,"v":0.115},{"m":5,"s":"all","t":5600,"v":0.42},{"m":5,"s":"all","t":5640,"v":0.3},{"m":5,"s":"all","t":5676,"v":0.28},{"m":5,"s":"all","t":5720,"v":0.4},{"m":5,"s":"all","t":5760,"v":0.3},{"m":5,"s":"all","t":5800,"v":0.38},{"m":5,"s":"all","t":5840,"v":0.27},{"m":5,"s":"all","t":5878,"v":0.24},{"m":5,"s":"all","t":5920,"v":0.3},{"m":5,"s":"all","t":5960,"v":0.22},{"m":5,"s":"all","t":5994,"v":0.3},{"m":5,"s":"all","t":6000,"v":0.27},
      {"m":5,"s":"all","t":300,"v":1.35},{"m":5,"s":"all","t":340,"v":0.9},{"m":5,"s":"all","t":420,"v":1.35},{"m":5,"s":"all","t":500,"v":1.4},{"m":5,"s":"all","t":540,"v":1.1},{"m":5,"s":"all","t":600,"v":1.35},{"m":5,"s":"all","t":680,"v":1.0},{"m":5,"s":"all","t":720,"v":1.4},{"m":5,"s":"all","t":760,"v":0.8},{"m":5,"s":"all","t":840,"v":1.45},{"m":5,"s":"all","t":880,"v":1.0},{"m":5,"s":"all","t":920,"v":1.5},{"m":5,"s":"all","t":1000,"v":1.45},{"m":5,"s":"all","t":1040,"v":1.3},{"m":5,"s":"all","t":1060,"v":0.8},{"m":5,"s":"all","t":1120,"v":1.55},{"m":5,"s":"all","t":1160,"v":0.85},{"m":5,"s":"all","t":1200,"v":1.2},{"m":5,"s":"all","t":1220,"v":1.6},{"m":5,"s":"all","t":1280,"v":1.1},{"m":5,"s":"all","t":1320,"v":1.5},{"m":5,"s":"all","t":1380,"v":1.0},{"m":5,"s":"all","t":1420,"v":1.55},{"m":5,"s":"all","t":1460,"v":1.1},{"m":5,"s":"all","t":1520,"v":1.65},{"m":5,"s":"all","t":1560,"v":1.2},{"m":5,"s":"all","t":1580,"v":1.7},{"m":5,"s":"all","t":1640,"v":1.2},{"m":5,"s":"all","t":1680,"v":1.75},{"m":5,"s":"all","t":1720,"v":1.1},{"m":5,"s":"all","t":1780,"v":1.7},{"m":5,"s":"all","t":1810,"v":1.3},{"m":5,"s":"all","t":1840,"v":1.8},{"m":5,"s":"all","t":1870,"v":1.9},{"m":5,"s":"all","t":1900,"v":1.6},{"m":5,"s":"all","t":1940,"v":2.0},{"m":5,"s":"all","t":1980,"v":1.75},{"m":5,"s":"all","t":2020,"v":1.95},{"m":5,"s":"all","t":2060,"v":1.6},{"m":5,"s":"all","t":2100,"v":1.5},{"m":5,"s":"all","t":2140,"v":1.85},{"m":5,"s":"all","t":2180,"v":1.3},{"m":5,"s":"all","t":2220,"v":1.8},{"m":5,"s":"all","t":2260,"v":1.2},{"m":5,"s":"all","t":2300,"v":1.75},{"m":5,"s":"all","t":2340,"v":1.4},{"m":5,"s":"all","t":2380,"v":1.3},{"m":5,"s":"all","t":2420,"v":1.75},{"m":5,"s":"all","t":2460,"v":1.2},{"m":5,"s":"all","t":2500,"v":1.7},{"m":5,"s":"all","t":2540,"v":1.3},{"m":5,"s":"all","t":2580,"v":1.4},{"m":5,"s":"all","t":2620,"v":1.7},{"m":5,"s":"all","t":2660,"v":1.3},{"m":5,"s":"all","t":2700,"v":1.65},{"m":5,"s":"all","t":2720,"v":0.9},{"m":5,"s":"all","t":2780,"v":1.65},{"m":5,"s":"all","t":2820,"v":1.2},{"m":5,"s":"all","t":2860,"v":1.55},{"m":5,"s":"all","t":2900,"v":1.2},{"m":5,"s":"all","t":2940,"v":1.65},{"m":5,"s":"all","t":2980,"v":1.3},{"m":5,"s":"all","t":3020,"v":1.55},{"m":5,"s":"all","t":3060,"v":1.2},{"m":5,"s":"all","t":3100,"v":1.6},{"m":5,"s":"all","t":3140,"v":1.3},{"m":5,"s":"all","t":3180,"v":1.2},{"m":5,"s":"all","t":3220,"v":1.5},{"m":5,"s":"all","t":3240,"v":0.8},{"m":5,"s":"all","t":3280,"v":1.55},{"m":5,"s":"all","t":3320,"v":1.2},{"m":5,"s":"all","t":3360,"v":1.5},{"m":5,"s":"all","t":3400,"v":1.3},{"m":5,"s":"all","t":3440,"v":1.55},{"m":5,"s":"all","t":3480,"v":1.2},{"m":5,"s":"all","t":3520,"v":1.5},{"m":5,"s":"all","t":3540,"v":1.0},{"m":5,"s":"all","t":3580,"v":1.4},{"m":5,"s":"all","t":3620,"v":1.1},{"m":5,"s":"all","t":3660,"v":1.4},{"m":5,"s":"all","t":3700,"v":1.0},{"m":5,"s":"all","t":3720,"v":1.4},{"m":5,"s":"all","t":3780,"v":1.1},{"m":5,"s":"all","t":3820,"v":1.4},{"m":5,"s":"all","t":3860,"v":1.1},{"m":5,"s":"all","t":3900,"v":1.4},{"m":5,"s":"all","t":3940,"v":1.0},{"m":5,"s":"all","t":3960,"v":1.3},{"m":5,"s":"all","t":4020,"v":1.3},{"m":5,"s":"all","t":4060,"v":1.1},{"m":5,"s":"all","t":4100,"v":1.3},{"m":5,"s":"all","t":4140,"v":1.0},{"m":5,"s":"all","t":4180,"v":1.3},{"m":5,"s":"all","t":4220,"v":1.05},{"m":5,"s":"all","t":4260,"v":1.25},{"m":5,"s":"all","t":4300,"v":1.0},{"m":5,"s":"all","t":4340,"v":1.25},{"m":5,"s":"all","t":4360,"v":0.9},{"m":5,"s":"all","t":4420,"v":1.2},{"m":5,"s":"all","t":4460,"v":1.0},{"m":5,"s":"all","t":4500,"v":1.2},{"m":5,"s":"all","t":4540,"v":1.0},{"m":5,"s":"all","t":4580,"v":1.15},{"m":5,"s":"all","t":4620,"v":0.9},{"m":5,"s":"all","t":4660,"v":1.1},{"m":5,"s":"all","t":4700,"v":0.9},{"m":5,"s":"all","t":4740,"v":1.1},{"m":5,"s":"all","t":4780,"v":0.85},{"m":5,"s":"all","t":4820,"v":1.05},{"m":5,"s":"all","t":4860,"v":0.85},{"m":5,"s":"all","t":4900,"v":1.0},{"m":5,"s":"all","t":4940,"v":0.8},{"m":5,"s":"all","t":4980,"v":0.95},{"m":5,"s":"all","t":5060,"v":0.9},{"m":5,"s":"all","t":5100,"v":0.75},{"m":5,"s":"all","t":5140,"v":0.88},{"m":5,"s":"all","t":5160,"v":0.7},{"m":5,"s":"all","t":5200,"v":0.85},{"m":5,"s":"all","t":5240,"v":0.7},{"m":5,"s":"all","t":5280,"v":0.8},{"m":5,"s":"all","t":5320,"v":0.65},{"m":5,"s":"all","t":5360,"v":0.75},
      {"m":5,"s":"MS","t":0,"v":0.77},{"m":5,"s":"MS","t":20,"v":1.3},{"m":5,"s":"MS","t":50,"v":1.5},{"m":5,"s":"MS","t":100,"v":1.63},{"m":5,"s":"MS","t":150,"v":1.58},{"m":5,"s":"MS","t":200,"v":1.62},{"m":5,"s":"MS","t":250,"v":1.55},{"m":5,"s":"MS","t":300,"v":1.52},{"m":5,"s":"MS","t":350,"v":1.58},{"m":5,"s":"MS","t":400,"v":1.56},{"m":5,"s":"MS","t":450,"v":1.65},{"m":5,"s":"MS","t":500,"v":1.62},{"m":5,"s":"MS","t":550,"v":1.7},{"m":5,"s":"MS","t":600,"v":1.66},{"m":5,"s":"MS","t":650,"v":1.75},{"m":5,"s":"MS","t":700,"v":1.7},{"m":5,"s":"MS","t":750,"v":1.82},{"m":5,"s":"MS","t":800,"v":1.76},{"m":5,"s":"MS","t":850,"v":1.88},{"m":5,"s":"MS","t":900,"v":1.8},{"m":5,"s":"MS","t":950,"v":1.95},{"m":5,"s":"MS","t":1000,"v":1.88},{"m":5,"s":"MS","t":1050,"v":1.95},{"m":5,"s":"MS","t":1100,"v":1.9},{"m":5,"s":"MS","t":1150,"v":2.02},{"m":5,"s":"MS","t":1200,"v":1.95},{"m":5,"s":"MS","t":1250,"v":2.05},{"m":5,"s":"MS","t":1300,"v":1.98},{"m":5,"s":"MS","t":1350,"v":2.1},{"m":5,"s":"MS","t":1400,"v":2.02},{"m":5,"s":"MS","t":1450,"v":2.12},{"m":5,"s":"MS","t":1500,"v":2.04},{"m":5,"s":"MS","t":1550,"v":2.15},{"m":5,"s":"MS","t":1600,"v":2.08},{"m":5,"s":"MS","t":1650,"v":2.2},{"m":5,"s":"MS","t":1700,"v":2.15},{"m":5,"s":"MS","t":1750,"v":2.3},{"m":5,"s":"MS","t":1800,"v":2.22},{"m":5,"s":"MS","t":1850,"v":2.38},{"m":5,"s":"MS","t":1900,"v":2.25},{"m":5,"s":"MS","t":1950,"v":2.32},{"m":5,"s":"MS","t":2000,"v":2.2},{"m":5,"s":"MS","t":2050,"v":2.28},{"m":5,"s":"MS","t":2100,"v":2.15},{"m":5,"s":"MS","t":2150,"v":2.22},{"m":5,"s":"MS","t":2200,"v":2.1},{"m":5,"s":"MS","t":2250,"v":2.2},{"m":5,"s":"MS","t":2300,"v":2.1},{"m":5,"s":"MS","t":2350,"v":2.15},{"m":5,"s":"MS","t":2400,"v":2.05},{"m":5,"s":"MS","t":2450,"v":2.12},{"m":5,"s":"MS","t":2500,"v":2.02},{"m":5,"s":"MS","t":2550,"v":2.1},{"m":5,"s":"MS","t":2600,"v":2.0},{"m":5,"s":"MS","t":2650,"v":2.05},{"m":5,"s":"MS","t":2700,"v":1.95},{"m":5,"s":"MS","t":2750,"v":2.02},{"m":5,"s":"MS","t":2800,"v":1.92},{"m":5,"s":"MS","t":2850,"v":1.98},{"m":5,"s":"MS","t":2900,"v":1.88},{"m":5,"s":"MS","t":2950,"v":1.95},{"m":5,"s":"MS","t":3000,"v":1.86},{"m":5,"s":"MS","t":3050,"v":1.92},{"m":5,"s":"MS","t":3100,"v":1.85},{"m":5,"s":"MS","t":3150,"v":1.9},{"m":5,"s":"MS","t":3200,"v":1.82},{"m":5,"s":"MS","t":3250,"v":1.9},{"m":5,"s":"MS","t":3300,"v":1.8},{"m":5,"s":"MS","t":3350,"v":1.85},{"m":5,"s":"MS","t":3400,"v":1.75},{"m":5,"s":"MS","t":3450,"v":1.8},{"m":5,"s":"MS","t":3500,"v":1.7},{"m":5,"s":"MS","t":3550,"v":1.76},{"m":5,"s":"MS","t":3600,"v":1.65},{"m":5,"s":"MS","t":3650,"v":1.7},{"m":5,"s":"MS","t":3700,"v":1.6},{"m":5,"s":"MS","t":3750,"v":1.66},{"m":5,"s":"MS","t":3800,"v":1.56},{"m":5,"s":"MS","t":3850,"v":1.62},{"m":5,"s":"MS","t":3900,"v":1.52},{"m":5,"s":"MS","t":3950,"v":1.58},{"m":5,"s":"MS","t":4000,"v":1.5},{"m":5,"s":"MS","t":4050,"v":1.55},{"m":5,"s":"MS","t":4100,"v":1.45},{"m":5,"s":"MS","t":4150,"v":1.5},{"m":5,"s":"MS","t":4200,"v":1.4},{"m":5,"s":"MS","t":4250,"v":1.46},{"m":5,"s":"MS","t":4300,"v":1.36},{"m":5,"s":"MS","t":4350,"v":1.42},{"m":5,"s":"MS","t":4400,"v":1.3},{"m":5,"s":"MS","t":4450,"v":1.36},{"m":5,"s":"MS","t":4500,"v":1.26},{"m":5,"s":"MS","t":4550,"v":1.32},{"m":5,"s":"MS","t":4600,"v":1.22},{"m":5,"s":"MS","t":4650,"v":1.27},{"m":5,"s":"MS","t":4700,"v":1.16},{"m":5,"s":"MS","t":4750,"v":1.22},{"m":5,"s":"MS","t":4800,"v":1.1},{"m":5,"s":"MS","t":4850,"v":1.15},{"m":5,"s":"MS","t":4900,"v":1.05},{"m":5,"s":"MS","t":4950,"v":1.1},{"m":5,"s":"MS","t":5000,"v":0.98},{"m":5,"s":"MS","t":5050,"v":1.02},{"m":5,"s":"MS","t":5100,"v":0.92},{"m":5,"s":"MS","t":5150,"v":0.97},{"m":5,"s":"MS","t":5200,"v":0.88},{"m":5,"s":"MS","t":5250,"v":0.92},{"m":5,"s":"MS","t":5300,"v":0.82},{"m":5,"s":"MS","t":5350,"v":0.86},{"m":5,"s":"MS","t":5400,"v":0.75},{"m":5,"s":"MS","t":5450,"v":0.7},{"m":5,"s":"MS","t":5480,"v":0.5},{"m":5,"s":"MS","t":5500,"v":0.33},{"m":5,"s":"MS","t":5520,"v":0.6},{"m":5,"s":"MS","t":5550,"v":0.72},{"m":5,"s":"MS","t":5580,"v":0.8},{"m":5,"s":"MS","t":5600,"v":0.68},{"m":5,"s":"MS","t":5650,"v":0.72},{"m":5,"s":"MS","t":5700,"v":0.58},{"m":5,"s":"MS","t":5750,"v":0.55},{"m":5,"s":"MS","t":5800,"v":0.45},{"m":5,"s":"MS","t":5850,"v":0.42},{"m":5,"s":"MS","t":5880,"v":0.22},{"m":5,"s":"MS","t":5900,"v":0.38},{"m":5,"s":"MS","t":5950,"v":0.3},{"m":5,"s":"MS","t":5980,"v":0.2},{"m":5,"s":"MS","t":6000,"v":0.3},
      {"m":6,"s":"all","t":0,"v":1.14},{"m":6,"s":"all","t":30,"v":1.4},{"m":6,"s":"all","t":60,"v":1.5},{"m":6,"s":"all","t":100,"v":1.55},{"m":6,"s":"all","t":140,"v":1.45},{"m":6,"s":"all","t":180,"v":1.5},{"m":6,"s":"all","t":220,"v":1.2},{"m":6,"s":"all","t":270,"v":0.89},{"m":6,"s":"all","t":300,"v":1.5},{"m":6,"s":"all","t":340,"v":1.05},{"m":6,"s":"all","t":374,"v":0.77},{"m":6,"s":"all","t":400,"v":1.45},{"m":6,"s":"all","t":440,"v":1.1},{"m":6,"s":"all","t":480,"v":1.55},{"m":6,"s":"all","t":501,"v":0.67},{"m":6,"s":"all","t":530,"v":1.5},{"m":6,"s":"all","t":560,"v":1.0},{"m":6,"s":"all","t":579,"v":0.7},{"m":6,"s":"all","t":620,"v":1.55},{"m":6,"s":"all","t":660,"v":1.1},{"m":6,"s":"all","t":700,"v":1.6},{"m":6,"s":"all","t":740,"v":1.0},{"m":6,"s":"all","t":791,"v":0.64},{"m":6,"s":"all","t":820,"v":1.6},{"m":6,"s":"all","t":860,"v":1.15},{"m":6,"s":"all","t":899,"v":0.63},{"m":6,"s":"all","t":930,"v":1.7},{"m":6,"s":"all","t":970,"v":1.1},{"m":6,"s":"all","t":1010,"v":1.7},{"m":6,"s":"all","t":1050,"v":1.2},{"m":6,"s":"all","t":1090,"v":1.75},{"m":6,"s":"all","t":1130,"v":1.0},{"m":6,"s":"all","t":1170,"v":1.7},{"m":6,"s":"all","t":1210,"v":1.1},{"m":6,"s":"all","t":1254,"v":0.64},{"m":6,"s":"all","t":1290,"v":1.8},{"m":6,"s":"all","t":1330,"v":1.2},{"m":6,"s":"all","t":1370,"v":1.75},{"m":6,"s":"all","t":1410,"v":0.9},{"m":6,"s":"all","t":1450,"v":1.8},{"m":6,"s":"all","t":1490,"v":1.1},{"m":6,"s":"all","t":1543,"v":0.45},{"m":6,"s":"all","t":1570,"v":1.85},{"m":6,"s":"all","t":1600,"v":1.3},{"m":6,"s":"all","t":1632,"v":0.52},{"m":6,"s":"all","t":1660,"v":1.9},{"m":6,"s":"all","t":1700,"v":1.2},{"m":6,"s":"all","t":1740,"v":1.85},{"m":6,"s":"all","t":1780,"v":1.0},{"m":6,"s":"all","t":1832,"v":0.65},{"m":6,"s":"all","t":1860,"v":1.8},{"m":6,"s":"all","t":1900,"v":1.1},{"m":6,"s":"all","t":1940,"v":1.85},{"m":6,"s":"all","t":1980,"v":0.9},{"m":6,"s":"all","t":2030,"v":1.7},{"m":6,"s":"all","t":2064,"v":0.39},{"m":6,"s":"all","t":2100,"v":1.8},{"m":6,"s":"all","t":2140,"v":1.0},{"m":6,"s":"all","t":2180,"v":1.75},{"m":6,"s":"all","t":2220,"v":0.8},{"m":6,"s":"all","t":2245,"v":0.23},{"m":6,"s":"all","t":2270,"v":1.2},{"m":6,"s":"all","t":2295,"v":0.48},{"m":6,"s":"all","t":2330,"v":1.9},{"m":6,"s":"all","t":2360,"v":1.2},{"m":6,"s":"all","t":2391,"v":0.5},{"m":6,"s":"all","t":2420,"v":1.75},{"m":6,"s":"all","t":2450,"v":1.2},{"m":6,"s":"all","t":2480,"v":0.54},{"m":6,"s":"all","t":2500,"v":2.0},{"m":6,"s":"all","t":2530,"v":1.6},{"m":6,"s":"all","t":2560,"v":2.1},{"m":6,"s":"all","t":2600,"v":1.5},{"m":6,"s":"all","t":2640,"v":2.0},{"m":6,"s":"all","t":2680,"v":1.3},{"m":6,"s":"all","t":2720,"v":1.9},{"m":6,"s":"all","t":2760,"v":1.4},{"m":6,"s":"all","t":2800,"v":1.85},{"m":6,"s":"all","t":2840,"v":1.2},{"m":6,"s":"all","t":2880,"v":1.75},{"m":6,"s":"all","t":2920,"v":1.1},{"m":6,"s":"all","t":2982,"v":0.67},{"m":6,"s":"all","t":3010,"v":1.65},{"m":6,"s":"all","t":3050,"v":1.2},{"m":6,"s":"all","t":3100,"v":1.6},{"m":6,"s":"all","t":3144,"v":0.63},{"m":6,"s":"all","t":3180,"v":1.5},{"m":6,"s":"all","t":3220,"v":1.05},{"m":6,"s":"all","t":3260,"v":1.55},{"m":6,"s":"all","t":3317,"v":0.23},{"m":6,"s":"all","t":3340,"v":1.45},{"m":6,"s":"all","t":3380,"v":1.0},{"m":6,"s":"all","t":3420,"v":1.45},{"m":6,"s":"all","t":3452,"v":0.76},{"m":6,"s":"all","t":3490,"v":1.4},{"m":6,"s":"all","t":3520,"v":1.0},{"m":6,"s":"all","t":3549,"v":0.73},{"m":6,"s":"all","t":3580,"v":1.35},{"m":6,"s":"all","t":3610,"v":0.9},{"m":6,"s":"all","t":3637,"v":0.42},{"m":6,"s":"all","t":3670,"v":1.3},{"m":6,"s":"all","t":3710,"v":1.0},{"m":6,"s":"all","t":3750,"v":1.3},{"m":6,"s":"all","t":3790,"v":0.95},{"m":6,"s":"all","t":3830,"v":1.25},{"m":6,"s":"all","t":3870,"v":0.95},{"m":6,"s":"all","t":3910,"v":1.2},{"m":6,"s":"all","t":3950,"v":0.9},{"m":6,"s":"all","t":3973,"v":0.79},{"m":6,"s":"all","t":4000,"v":1.1},
      {"m":6,"s":"all","t":120,"v":1.55},{"m":6,"s":"all","t":160,"v":1.3},{"m":6,"s":"all","t":200,"v":1.55},{"m":6,"s":"all","t":240,"v":1.35},{"m":6,"s":"all","t":320,"v":1.45},{"m":6,"s":"all","t":360,"v":1.3},{"m":6,"s":"all","t":420,"v":1.5},{"m":6,"s":"all","t":460,"v":1.2},{"m":6,"s":"all","t":510,"v":1.5},{"m":6,"s":"all","t":545,"v":1.3},{"m":6,"s":"all","t":600,"v":1.5},{"m":6,"s":"all","t":640,"v":1.2},{"m":6,"s":"all","t":680,"v":1.55},{"m":6,"s":"all","t":720,"v":1.3},{"m":6,"s":"all","t":760,"v":1.55},{"m":6,"s":"all","t":780,"v":1.1},{"m":6,"s":"all","t":840,"v":1.5},{"m":6,"s":"all","t":880,"v":1.2},{"m":6,"s":"all","t":915,"v":1.6},{"m":6,"s":"all","t":950,"v":1.3},{"m":6,"s":"all","t":990,"v":1.65},{"m":6,"s":"all","t":1030,"v":1.3},{"m":6,"s":"all","t":1070,"v":1.7},{"m":6,"s":"all","t":1110,"v":1.35},{"m":6,"s":"all","t":1150,"v":1.7},{"m":6,"s":"all","t":1190,"v":1.3},{"m":6,"s":"all","t":1230,"v":1.75},{"m":6,"s":"all","t":1270,"v":1.2},{"m":6,"s":"all","t":1310,"v":1.75},{"m":6,"s":"all","t":1350,"v":1.3},{"m":6,"s":"all","t":1390,"v":1.75},{"m":6,"s":"all","t":1430,"v":1.3},{"m":6,"s":"all","t":1470,"v":1.8},{"m":6,"s":"all","t":1510,"v":1.3},{"m":6,"s":"all","t":1530,"v":1.8},{"m":6,"s":"all","t":1585,"v":1.4},{"m":6,"s":"all","t":1615,"v":1.8},{"m":6,"s":"all","t":1645,"v":1.3},{"m":6,"s":"all","t":1680,"v":1.85},{"m":6,"s":"all","t":1720,"v":1.35},{"m":6,"s":"all","t":1760,"v":1.8},{"m":6,"s":"all","t":1800,"v":1.2},{"m":6,"s":"all","t":1815,"v":1.75},{"m":6,"s":"all","t":1845,"v":1.3},{"m":6,"s":"all","t":1880,"v":1.85},{"m":6,"s":"all","t":1920,"v":1.3},{"m":6,"s":"all","t":1960,"v":1.8},{"m":6,"s":"all","t":2000,"v":1.3},{"m":6,"s":"all","t":2015,"v":1.8},{"m":6,"s":"all","t":2045,"v":1.2},{"m":6,"s":"all","t":2080,"v":1.75},{"m":6,"s":"all","t":2120,"v":1.3},{"m":6,"s":"all","t":2160,"v":1.7},{"m":6,"s":"all","t":2200,"v":1.2},{"m":6,"s":"all","t":2235,"v":1.6},{"m":6,"s":"all","t":2255,"v":1.0},{"m":6,"s":"all","t":2285,"v":1.7},{"m":6,"s":"all","t":2310,"v":1.2},{"m":6,"s":"all","t":2345,"v":1.8},{"m":6,"s":"all","t":2375,"v":1.0},{"m":6,"s":"all","t":2405,"v":1.7},{"m":6,"s":"all","t":2435,"v":1.0},{"m":6,"s":"all","t":2465,"v":1.7},{"m":6,"s":"all","t":2490,"v":1.2},{"m":6,"s":"all","t":2515,"v":1.9},{"m":6,"s":"all","t":2545,"v":1.7},{"m":6,"s":"all","t":2580,"v":2.0},{"m":6,"s":"all","t":2620,"v":1.7},{"m":6,"s":"all","t":2660,"v":1.95},{"m":6,"s":"all","t":2700,"v":1.6},{"m":6,"s":"all","t":2740,"v":1.9},{"m":6,"s":"all","t":2780,"v":1.55},{"m":6,"s":"all","t":2820,"v":1.8},{"m":6,"s":"all","t":2860,"v":1.5},{"m":6,"s":"all","t":2900,"v":1.7},{"m":6,"s":"all","t":2940,"v":1.3},{"m":6,"s":"all","t":2960,"v":1.6},{"m":6,"s":"all","t":3000,"v":1.2},{"m":6,"s":"all","t":3030,"v":1.65},{"m":6,"s":"all","t":3075,"v":1.3},{"m":6,"s":"all","t":3120,"v":1.55},{"m":6,"s":"all","t":3160,"v":1.2},{"m":6,"s":"all","t":3200,"v":1.55},{"m":6,"s":"all","t":3240,"v":1.2},{"m":6,"s":"all","t":3280,"v":1.5},{"m":6,"s":"all","t":3300,"v":1.1},{"m":6,"s":"all","t":3360,"v":1.45},{"m":6,"s":"all","t":3400,"v":1.15},{"m":6,"s":"all","t":3440,"v":1.45},{"m":6,"s":"all","t":3470,"v":1.1},{"m":6,"s":"all","t":3505,"v":1.4},{"m":6,"s":"all","t":3535,"v":1.15},{"m":6,"s":"all","t":3565,"v":1.4},{"m":6,"s":"all","t":3595,"v":1.1},{"m":6,"s":"all","t":3625,"v":1.3},{"m":6,"s":"all","t":3655,"v":1.0},{"m":6,"s":"all","t":3690,"v":1.3},{"m":6,"s":"all","t":3730,"v":1.05},{"m":6,"s":"all","t":3770,"v":1.3},{"m":6,"s":"all","t":3810,"v":1.05},{"m":6,"s":"all","t":3850,"v":1.25},{"m":6,"s":"all","t":3890,"v":1.0},{"m":6,"s":"all","t":3930,"v":1.2},{"m":6,"s":"all","t":3990,"v":1.0},
      {"m":6,"s":"MS","t":0,"v":1.14},{"m":6,"s":"MS","t":20,"v":1.45},{"m":6,"s":"MS","t":50,"v":1.6},{"m":6,"s":"MS","t":100,"v":1.7},{"m":6,"s":"MS","t":150,"v":1.75},{"m":6,"s":"MS","t":200,"v":1.82},{"m":6,"s":"MS","t":250,"v":1.78},{"m":6,"s":"MS","t":300,"v":1.85},{"m":6,"s":"MS","t":350,"v":1.8},{"m":6,"s":"MS","t":400,"v":1.88},{"m":6,"s":"MS","t":450,"v":1.82},{"m":6,"s":"MS","t":500,"v":1.9},{"m":6,"s":"MS","t":550,"v":1.84},{"m":6,"s":"MS","t":600,"v":1.92},{"m":6,"s":"MS","t":650,"v":1.86},{"m":6,"s":"MS","t":700,"v":1.96},{"m":6,"s":"MS","t":750,"v":1.9},{"m":6,"s":"MS","t":800,"v":2.0},{"m":6,"s":"MS","t":850,"v":1.94},{"m":6,"s":"MS","t":900,"v":2.05},{"m":6,"s":"MS","t":950,"v":1.98},{"m":6,"s":"MS","t":1000,"v":2.1},{"m":6,"s":"MS","t":1050,"v":2.02},{"m":6,"s":"MS","t":1100,"v":2.1},{"m":6,"s":"MS","t":1150,"v":2.04},{"m":6,"s":"MS","t":1200,"v":2.12},{"m":6,"s":"MS","t":1250,"v":2.06},{"m":6,"s":"MS","t":1300,"v":2.15},{"m":6,"s":"MS","t":1350,"v":2.08},{"m":6,"s":"MS","t":1400,"v":2.18},{"m":6,"s":"MS","t":1450,"v":2.1},{"m":6,"s":"MS","t":1500,"v":2.2},{"m":6,"s":"MS","t":1550,"v":2.15},{"m":6,"s":"MS","t":1600,"v":2.25},{"m":6,"s":"MS","t":1650,"v":2.15},{"m":6,"s":"MS","t":1700,"v":2.22},{"m":6,"s":"MS","t":1750,"v":2.12},{"m":6,"s":"MS","t":1800,"v":2.2},{"m":6,"s":"MS","t":1850,"v":2.12},{"m":6,"s":"MS","t":1900,"v":2.2},{"m":6,"s":"MS","t":1950,"v":2.1},{"m":6,"s":"MS","t":2000,"v":2.18},{"m":6,"s":"MS","t":2050,"v":2.08},{"m":6,"s":"MS","t":2100,"v":2.15},{"m":6,"s":"MS","t":2150,"v":2.1},{"m":6,"s":"MS","t":2200,"v":2.2},{"m":6,"s":"MS","t":2250,"v":2.12},{"m":6,"s":"MS","t":2300,"v":2.25},{"m":6,"s":"MS","t":2350,"v":2.18},{"m":6,"s":"MS","t":2400,"v":2.28},{"m":6,"s":"MS","t":2450,"v":2.2},{"m":6,"s":"MS","t":2500,"v":2.3},{"m":6,"s":"MS","t":2550,"v":2.25},{"m":6,"s":"MS","t":2600,"v":2.4},{"m":6,"s":"MS","t":2650,"v":2.3},{"m":6,"s":"MS","t":2700,"v":2.28},{"m":6,"s":"MS","t":2750,"v":2.15},{"m":6,"s":"MS","t":2800,"v":2.12},{"m":6,"s":"MS","t":2850,"v":2.05},{"m":6,"s":"MS","t":2900,"v":2.02},{"m":6,"s":"MS","t":2950,"v":1.95},{"m":6,"s":"MS","t":3000,"v":1.98},{"m":6,"s":"MS","t":3050,"v":1.88},{"m":6,"s":"MS","t":3100,"v":1.9},{"m":6,"s":"MS","t":3150,"v":1.8},{"m":6,"s":"MS","t":3200,"v":1.85},{"m":6,"s":"MS","t":3250,"v":1.75},{"m":6,"s":"MS","t":3300,"v":1.78},{"m":6,"s":"MS","t":3320,"v":1.3},{"m":6,"s":"MS","t":3340,"v":1.72},{"m":6,"s":"MS","t":3400,"v":1.7},{"m":6,"s":"MS","t":3450,"v":1.62},{"m":6,"s":"MS","t":3500,"v":1.67},{"m":6,"s":"MS","t":3550,"v":1.58},{"m":6,"s":"MS","t":3600,"v":1.62},{"m":6,"s":"MS","t":3650,"v":1.55},{"m":6,"s":"MS","t":3700,"v":1.6},{"m":6,"s":"MS","t":3750,"v":1.5},{"m":6,"s":"MS","t":3800,"v":1.55},{"m":6,"s":"MS","t":3850,"v":1.45},{"m":6,"s":"MS","t":3900,"v":1.45},{"m":6,"s":"MS","t":3950,"v":1.35},{"m":6,"s":"MS","t":3980,"v":1.1},{"m":6,"s":"MS","t":4000,"v":1.3}
    ]
  },
  "resolve": {"scale": {"color": "independent", "opacity": "independent", "x": "independent", "y": "independent"}, "legend": {"color": "independent"}},
  "concat": [
    {
      "width": 381, "height": 253,
      "title": "Model 5",
      "layer": [
        {
          "data": {"name": "lagr"},
          "transform": [{"filter": "datum.m == 5"}],
          "mark": {"type": "line", "strokeWidth": 1.6},
          "encoding": {
            "x": {"field": "t", "type": "quantitative", "scale": {"domain": [-300, 6300], "nice": false, "zero": false},
                  "axis": {"values": [0, 1000, 2000, 3000, 4000, 5000, 6000], "labels": false, "ticks": false, "title": null}},
            "y": {"field": "v", "type": "quantitative", "scale": {"type": "log", "domain": [0.1, 10], "nice": false},
                  "axis": {"title": "r_lagr [pc]", "titlePadding": 6,
                           "values": [0.1, 0.2, 0.3, 0.4, 0.5, 0.6, 0.7, 0.8, 0.9, 1, 2, 3, 4, 5, 6, 7, 8, 9, 10],
                           "labelExpr": "datum.value == 10 ? '10¹' : datum.value == 1 ? '10⁰' : datum.value == 0.1 ? '10⁻¹' : ''",
                           "tickSize": {"condition": {"test": "datum.value == 10 || datum.value == 1 || datum.value == 0.1", "value": 3.5}, "value": 2},
                           "gridOpacity": {"condition": {"test": "datum.value == 10 || datum.value == 1 || datum.value == 0.1", "value": 0.7}, "value": 0}}},
            "color": {"field": "s", "type": "nominal",
                      "scale": {"domain": ["10%", "30%", "50%", "70%", "90%", "half light"], "range": ["#1f77b4", "#ff7f0e", "#2ca02c", "#d62728", "#9467bd", "#444444"]},
                      "legend": {"title": null, "orient": "none", "legendX": 137, "legendY": 117}},
            "opacity": {"field": "k", "type": "nominal", "scale": {"domain": ["d", "l"], "range": [1, 0.45]}, "legend": null}
          }
        },
        {
          "data": {"values": [{"lab": "(a)"}]},
          "mark": {"type": "text", "font": "Liberation Serif", "fontSize": 12, "align": "left", "baseline": "middle", "color": "black"},
          "encoding": {"x": {"datum": -110}, "y": {"datum": 0.123}, "text": {"field": "lab"}}
        }
      ]
    },
    {
      "width": 380, "height": 253,
      "title": "Model 6",
      "layer": [
        {
          "data": {"name": "lagr"},
          "transform": [{"filter": "datum.m == 6"}],
          "mark": {"type": "line", "strokeWidth": 1.6},
          "encoding": {
            "x": {"field": "t", "type": "quantitative", "scale": {"domain": [-200, 4200], "nice": false, "zero": false},
                  "axis": {"values": [0, 500, 1000, 1500, 2000, 2500, 3000, 3500, 4000], "labels": false, "ticks": false, "title": null}},
            "y": {"field": "v", "type": "quantitative", "scale": {"type": "log", "domain": [0.1, 10], "nice": false},
                  "axis": {"title": null, "labels": false,
                           "values": [0.1, 0.2, 0.3, 0.4, 0.5, 0.6, 0.7, 0.8, 0.9, 1, 2, 3, 4, 5, 6, 7, 8, 9, 10],
                           "tickSize": {"condition": {"test": "datum.value == 10 || datum.value == 1 || datum.value == 0.1", "value": 3.5}, "value": 2},
                           "gridOpacity": {"condition": {"test": "datum.value == 10 || datum.value == 1 || datum.value == 0.1", "value": 0.7}, "value": 0}}},
            "color": {"field": "s", "type": "nominal",
                      "scale": {"domain": ["10%", "30%", "50%", "70%", "90%", "half light"], "range": ["#1f77b4", "#ff7f0e", "#2ca02c", "#d62728", "#9467bd", "#444444"]},
                      "legend": null},
            "opacity": {"field": "k", "type": "nominal", "scale": {"domain": ["d", "l"], "range": [1, 0.45]}, "legend": null}
          }
        },
        {
          "data": {"values": [{"lab": "(b)"}]},
          "mark": {"type": "text", "font": "Liberation Serif", "fontSize": 12, "align": "left", "baseline": "middle", "color": "black"},
          "encoding": {"x": {"datum": -75}, "y": {"datum": 0.123}, "text": {"field": "lab"}}
        }
      ]
    },
    {
      "width": 381, "height": 252,
      "layer": [
        {
          "data": {"name": "rc"},
          "transform": [{"filter": "datum.m == 5"}],
          "mark": {"type": "line", "strokeWidth": 1.7},
          "encoding": {
            "x": {"field": "t", "type": "quantitative", "scale": {"domain": [-300, 6300], "nice": false, "zero": false},
                  "axis": {"values": [0, 1000, 2000, 3000, 4000, 5000, 6000], "format": "d", "title": "t [Myr]", "titlePadding": 3}},
            "y": {"field": "v", "type": "quantitative", "scale": {"type": "log", "domain": [0.098, 2.8], "nice": false},
                  "axis": {"title": "r_c [pc]", "titlePadding": 6,
                           "values": [0.1, 0.2, 0.3, 0.4, 0.5, 0.6, 0.7, 0.8, 0.9, 1, 2],
                           "labelExpr": "datum.value == 1 ? '10⁰' : datum.value == 0.1 ? '10⁻¹' : ''",
                           "tickSize": {"condition": {"test": "datum.value == 1 || datum.value == 0.1", "value": 3.5}, "value": 2},
                           "gridOpacity": {"condition": {"test": "datum.value == 1", "value": 0.7}, "value": 0}}},
            "color": {"field": "s", "type": "nominal",
                      "scale": {"domain": ["all", "MS"], "range": ["#1f77b4", "#ff7f0e"]},
                      "legend": {"title": null, "orient": "none", "legendX": 157, "legendY": 196}}
          }
        },
        {
          "data": {"values": [{"lab": "(c)"}]},
          "mark": {"type": "text", "font": "Liberation Serif", "fontSize": 12, "align": "left", "baseline": "middle", "color": "black"},
          "encoding": {"x": {"datum": -110}, "y": {"datum": 0.114}, "text": {"field": "lab"}}
        }
      ]
    },
    {
      "width": 380, "height": 252,
      "layer": [
        {
          "data": {"name": "rc"},
          "transform": [{"filter": "datum.m == 6"}],
          "mark": {"type": "line", "strokeWidth": 1.7},
          "encoding": {
            "x": {"field": "t", "type": "quantitative", "scale": {"domain": [-200, 4200], "nice": false, "zero": false},
                  "axis": {"values": [0, 500, 1000, 1500, 2000, 2500, 3000, 3500, 4000], "format": "d", "title": "t [Myr]", "titlePadding": 3}},
            "y": {"field": "v", "type": "quantitative", "scale": {"type": "log", "domain": [0.098, 2.8], "nice": false},
                  "axis": {"title": null, "labels": false,
                           "values": [0.1, 0.2, 0.3, 0.4, 0.5, 0.6, 0.7, 0.8, 0.9, 1, 2],
                           "tickSize": {"condition": {"test": "datum.value == 1 || datum.value == 0.1", "value": 3.5}, "value": 2},
                           "gridOpacity": {"condition": {"test": "datum.value == 1", "value": 0.7}, "value": 0}}},
            "color": {"field": "s", "type": "nominal",
                      "scale": {"domain": ["all", "MS"], "range": ["#1f77b4", "#ff7f0e"]},
                      "legend": null}
          }
        },
        {
          "data": {"values": [{"lab": "(d)"}]},
          "mark": {"type": "text", "font": "Liberation Serif", "fontSize": 12, "align": "left", "baseline": "middle", "color": "black"},
          "encoding": {"x": {"datum": -75}, "y": {"datum": 0.114}, "text": {"field": "lab"}}
        }
      ]
    }
  ]
}
